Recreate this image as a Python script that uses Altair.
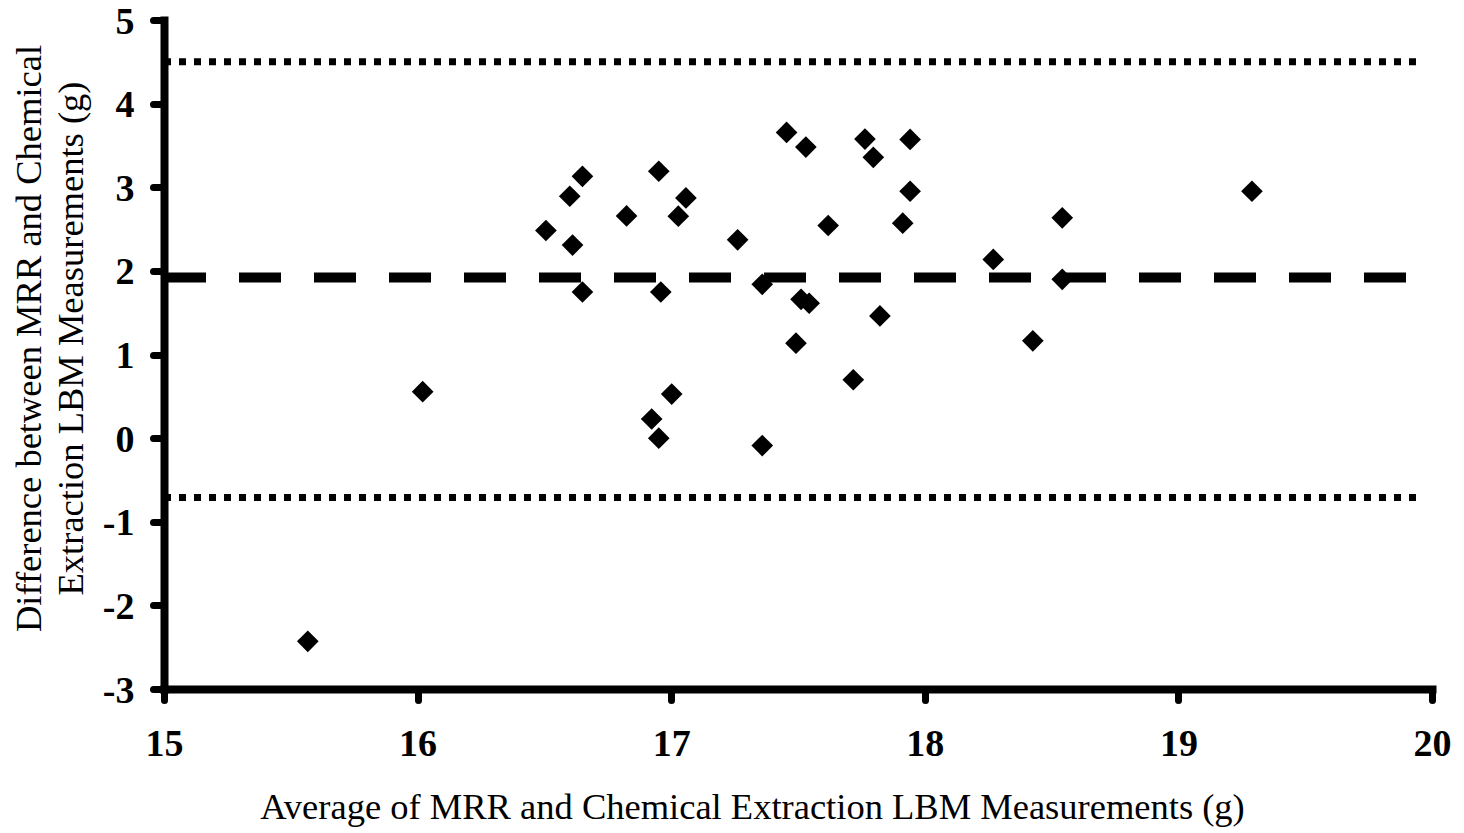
import altair as alt
import pandas as pd

# Bland-Altman data
avg_values = [15.567, 16.020, 16.506, 16.600, 16.611, 16.650, 16.650, 16.824, 16.923,
              16.951, 16.959, 16.951, 17.002, 17.028, 17.058, 17.262, 17.359, 17.359,
              17.455, 17.531, 17.492, 17.512, 17.544, 17.619, 17.718, 17.764, 17.797,
              17.823, 17.913, 17.942, 17.942, 18.270, 18.426, 18.542, 18.542, 19.290]
diff_values = [-2.43, 0.555, 2.483, 2.892, 2.308, 3.131, 1.747, 2.657, 0.229,
               3.191, 1.747, 0.0, 0.527, 2.654, 2.872, 2.371, 1.839, -0.089,
               3.656, 3.480, 1.135, 1.660, 1.613, 2.543, 0.698, 3.576, 3.358,
               1.461, 2.570, 2.952, 3.572, 2.137, 1.163, 2.634, 1.899, 2.952]

# Reference lines: upper limit, mean difference, lower limit
ref_kind = ["limit", "mean", "limit"]
ref_values = [4.50, 1.92, -0.71]
ref_x_start = [15.0, 15.0, 15.0]
ref_x_end = [19.95, 19.95, 19.95]

x_ticks = [15, 16, 17, 18, 19, 20]
y_ticks = [-3, -2, -1, 0, 1, 2, 3, 4, 5]

x_title = "Average of MRR and Chemical Extraction LBM Measurements (g)"
y_title = ["Difference between MRR and Chemical", "Extraction LBM Measurements (g)"]

FONT = "Liberation Serif"

pts = pd.DataFrame({"avg": avg_values, "diff": diff_values})
refs = pd.DataFrame({"kind": ref_kind, "val": ref_values, "x0": ref_x_start, "x1": ref_x_end})

x_scale = alt.Scale(domain=[15, 20], nice=False, zero=False)
y_scale = alt.Scale(domain=[-3, 5], nice=False, zero=False)

common_axis = dict(
    grid=False, domainColor="black", domainWidth=8, domainCap="square",
    tickColor="black", tickWidth=7, tickSize=11, tickCap="round",
    labelFont=FONT, labelFontSize=38, labelFontWeight="bold", labelColor="black",
    labelExpr="'' + datum.value", labelOverlap=False, labelFlush=False,
    titleFont=FONT, titleFontSize=36.5, titleFontWeight="normal", titleColor="black",
)

x_axis = alt.Axis(title=x_title, values=x_ticks, labelPadding=25,
                  titleX=588, titleY=129, titleAlign="center", titleBaseline="alphabetic",
                  **common_axis)
y_axis = alt.Axis(title=y_title, values=y_ticks, labelPadding=19, labelOffset=2,
                  titleX=-135, titleY=318, titleAngle=270, titleAlign="center",
                  titleBaseline="middle", titleLineHeight=42,
                  **common_axis)

points = alt.Chart(pts).mark_point(
    shape="diamond", filled=True, color="black", size=470, opacity=1, strokeWidth=0
).encode(
    x=alt.X("avg:Q", scale=x_scale, axis=x_axis),
    y=alt.Y("diff:Q", scale=y_scale, axis=y_axis),
)

dotted = alt.Chart(refs).transform_filter(alt.datum.kind == "limit").mark_rule(
    color="black", strokeWidth=7, strokeDash=[7, 8], strokeCap="butt"
).encode(
    x=alt.X("x0:Q", scale=x_scale, axis=x_axis),
    x2="x1:Q",
    y=alt.Y("val:Q", scale=y_scale, axis=y_axis),
)

dashed = alt.Chart(refs).transform_filter(alt.datum.kind == "mean").mark_rule(
    color="black", strokeWidth=10, strokeDash=[42, 33], strokeCap="butt"
).encode(
    x=alt.X("x0:Q", scale=x_scale, axis=x_axis),
    x2="x1:Q",
    y=alt.Y("val:Q", scale=y_scale, axis=y_axis),
)

chart = alt.layer(dotted, dashed, points).properties(
    width=1268, height=669,
    autosize=alt.AutoSizeParams(type="none"),
    padding={"left": 156, "top": 12, "right": 20, "bottom": 140},
    background="white",
).configure_view(stroke=None)

chart.save("out.html", embed_options={"renderer": "svg", "actions": False})
